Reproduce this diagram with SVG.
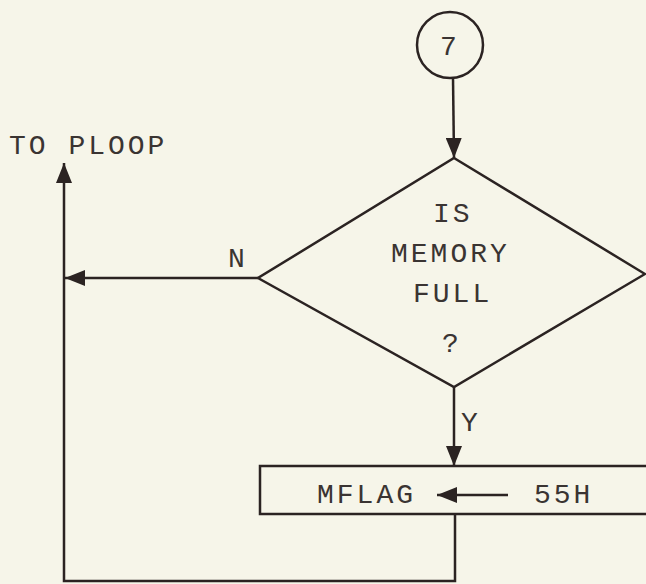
<svg xmlns="http://www.w3.org/2000/svg" width="646" height="584" viewBox="0 0 646 584">
  <style>
    .bg { fill: #f6f5e9; }
    .shape { fill: none; stroke: #2b2322; stroke-width: 2.5; }
    .conn { fill: none; stroke: #2b2322; stroke-width: 2.5; }
    .lbl { font-family: "Liberation Mono", "DejaVu Sans Mono", monospace; font-size: 28px; fill: #3a3432; letter-spacing: 3px; }
  </style>
  <defs>
    <marker id="arr" markerUnits="userSpaceOnUse" markerWidth="20" markerHeight="16" refX="20" refY="8" orient="auto">
      <path d="M0,0 L20,8 L0,16 z" fill="#2b2322"/>
    </marker>
  </defs>
  <rect class="bg" x="0" y="0" width="646" height="584"/>

  <g id="node-connector7">
    <ellipse class="shape" cx="450" cy="45" rx="33" ry="33"/>
    <text class="lbl" x="440" y="55">7</text>
  </g>

  <g id="node-decision">
    <polygon class="shape" points="454,158 645,274 454,387 258,278"/>
    <text class="lbl" x="433" y="222">IS</text>
    <text class="lbl" x="391" y="262">MEMORY</text>
    <text class="lbl" x="413" y="302">FULL</text>
    <text class="lbl" x="442" y="352">?</text>
  </g>

  <g id="node-mflag">
    <rect class="shape" x="260" y="466" width="400" height="48"/>
    <text class="lbl" x="317" y="503">MFLAG</text>
    <line class="conn" x1="508" y1="495" x2="437" y2="495" marker-end="url(#arr)"/>
    <text class="lbl" x="534" y="503">55H</text>
  </g>

  <g id="label-toploop">
    <text class="lbl" x="9" y="154">TO PLOOP</text>
  </g>

  <g id="connectors">
    <line class="conn" x1="453" y1="78" x2="454" y2="158" marker-end="url(#arr)"/>
    <line class="conn" x1="258" y1="278" x2="65" y2="278" marker-end="url(#arr)"/>
    <text class="lbl" x="228" y="267">N</text>
    <line class="conn" x1="454" y1="387" x2="454" y2="466" marker-end="url(#arr)"/>
    <text class="lbl" x="461" y="431">Y</text>
    <polyline class="conn" points="455,514 455,581 64,581 64,163" marker-end="url(#arr)"/>
  </g>
</svg>
